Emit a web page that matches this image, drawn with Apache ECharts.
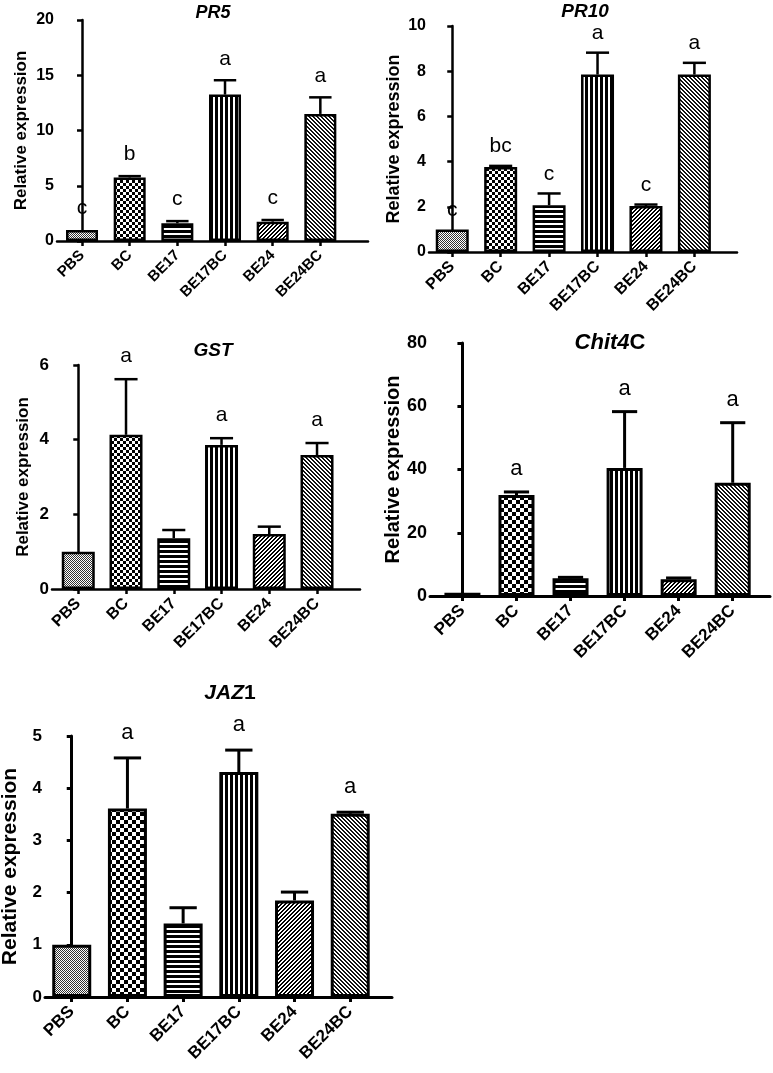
<!DOCTYPE html>
<html><head><meta charset="utf-8">
<script src="https://cdn.jsdelivr.net/npm/echarts@6/dist/echarts.min.js"></script>
<style>html,body{margin:0;padding:0;background:#fff}#c{width:773px;height:1073px}</style>
</head><body><div id="c"></div>
<script>
// ---------- data ----------
const categories = ['PBS', 'BC', 'BE17', 'BE17BC', 'BE24', 'BE24BC'];
const titleItalic = ['PR5', 'PR10', 'GST', 'Chit4', 'JAZ'];
const titleUpright = ['', '', '', 'C', '1'];

const pr5Mean = [1.0, 5.75, 1.6, 13.25, 1.75, 11.5];
const pr5Err = [0, 0.12, 0.2, 1.3, 0.15, 1.5];
const pr5Letters = ['c', 'b', 'c', 'a', 'c', 'a'];

const pr10Mean = [1.0, 3.76, 2.07, 7.85, 2.03, 7.85];
const pr10Err = [0, 0.05, 0.52, 0.97, 0.07, 0.52];
const pr10Letters = ['c', 'bc', 'c', 'a', 'c', 'a'];

const gstMean = [1.0, 4.13, 1.36, 3.86, 1.47, 3.59];
const gstErr = [0, 1.49, 0.22, 0.18, 0.2, 0.32];
const gstLetters = ['', 'a', '', 'a', '', 'a'];

const chitMean = [1.0, 31.9, 5.6, 40.5, 5.3, 35.8];
const chitErr = [0, 1.0, 0.3, 17.8, 0.4, 19.0];
const chitLetters = ['', 'a', '', 'a', '', 'a'];

const jazMean = [1.0, 3.61, 1.41, 4.31, 1.85, 3.51];
const jazErr = [0, 0.97, 0.3, 0.42, 0.16, 0.03];
const jazLetters = ['', 'a', '', 'a', '', 'a'];

const yMax = [20, 10, 6, 80, 5];
const yInterval = [5, 2, 2, 20, 1];

// ---------- layout / style ----------
const FONT = 'Liberation Sans, Arial, sans-serif';
const layout = [
  {grid: {left: 57, top: 20, width: 311, height: 221}, xmin: -0.525, xmax: 6.0, barW: 32, cell: 3,
   tx: 213, ty: 4, tSize: 18, nameGap: 27, nameSize: 17, tickSize: 16, xSize: 15, letSize: 21, lw: 2.5, gap: 11},
  {grid: {left: 429, top: 26, width: 308, height: 226}, xmin: -0.48, xmax: 5.88, barW: 33, cell: 3,
   tx: 585, ty: 2, tSize: 19, nameGap: 26, nameSize: 18, tickSize: 16, xSize: 16, letSize: 21, lw: 2.5, gap: 9},
  {grid: {left: 52, top: 365, width: 308, height: 224}, xmin: -0.55, xmax: 5.9, barW: 33, cell: 3,
   tx: 213, ty: 341, tSize: 19, nameGap: 20, nameSize: 17, tickSize: 17, xSize: 16, letSize: 21, lw: 2.5, gap: 12},
  {grid: {left: 430, top: 343, width: 340, height: 253}, xmin: -0.6, xmax: 5.69, barW: 36, cell: 4,
   tx: 610, ty: 332, tSize: 22, nameGap: 26, nameSize: 20, tickSize: 18, xSize: 17, letSize: 22, lw: 3, gap: 12},
  {grid: {left: 45, top: 736, width: 347, height: 261}, xmin: -0.48, xmax: 5.75, barW: 39, cell: 4,
   tx: 230, ty: 683, tSize: 21, nameGap: 24, nameSize: 21, tickSize: 17, xSize: 17, letSize: 22, lw: 3, gap: 14}
];
const datasets = [
  [pr5Mean, pr5Err, pr5Letters],
  [pr10Mean, pr10Err, pr10Letters],
  [gstMean, gstErr, gstLetters],
  [chitMean, chitErr, chitLetters],
  [jazMean, jazErr, jazLetters]
];

function makeTile(w, h, fn, dark) {
  const c = document.createElement('canvas');
  c.width = w; c.height = h;
  const g = c.getContext('2d');
  g.fillStyle = '#fff'; g.fillRect(0, 0, w, h);
  g.fillStyle = dark;
  for (let y = 0; y < h; y++) for (let x = 0; x < w; x++) if (fn(x, y)) g.fillRect(x, y, 1, 1);
  return {image: c, repeat: 'repeat'};
}
function patternsFor(cell) {
  const p = cell * 2;
  return [
    makeTile(2, 2, (x, y) => (x + y) % 2 === 0, '#333'),
    makeTile(p, p, (x, y) => (Math.floor(x / cell) + Math.floor(y / cell)) % 2 === 0, '#000'),
    makeTile(1, 5, (x, y) => y < 3, '#000'),
    makeTile(5, 1, (x, y) => x < 3, '#000'),
    makeTile(4, 4, (x, y) => (x + y) % 4 < 2, '#000'),
    makeTile(4, 4, (x, y) => (((x - y) % 4) + 4) % 4 < 2, '#111')
  ];
}

const idx = categories.map((_, k) => k);
const grids = [], xAxes = [], yAxes = [], series = [], titles = [];

layout.forEach((L, i) => {
  const [mean, err, letters] = datasets[i];
  const pats = patternsFor(L.cell);
  grids.push(Object.assign({outerBoundsMode: 'none', containLabel: false}, L.grid));
  titles.push({
    text: titleUpright[i] ? '{i|' + titleItalic[i] + '}{n|' + titleUpright[i] + '}' : '{i|' + titleItalic[i] + '}',
    left: L.tx, top: L.ty, textAlign: 'center', padding: 0,
    textStyle: {
      fontFamily: FONT, fontSize: L.tSize, fontWeight: 'bold', fontStyle: 'italic', color: '#000',
      rich: {
        i: {fontFamily: FONT, fontSize: L.tSize, fontWeight: 'bold', fontStyle: 'italic', color: '#000'},
        n: {fontFamily: FONT, fontSize: L.tSize, fontWeight: 'bold', fontStyle: 'normal', color: '#000'}
      }
    }
  });
  xAxes.push({
    gridIndex: i, type: 'value', min: L.xmin, max: L.xmax,
    axisLine: {show: true, onZero: false, lineStyle: {color: '#000', width: L.lw}},
    axisTick: {show: true, customValues: idx, length: 5, lineStyle: {color: '#000', width: L.lw}},
    axisLabel: {
      show: true, customValues: idx, rotate: 45, margin: 12,
      formatter: v => categories[Math.round(v)],
      fontFamily: FONT, fontWeight: 'bold', fontSize: L.xSize, color: '#000'
    },
    splitLine: {show: false}
  });
  yAxes.push({
    gridIndex: i, type: 'value', min: 0, max: yMax[i], interval: yInterval[i],
    name: 'Relative expression', nameLocation: 'middle', nameGap: L.nameGap,
    nameTextStyle: {fontFamily: FONT, fontWeight: 'bold', fontSize: L.nameSize, color: '#000'},
    axisLine: {show: true, lineStyle: {color: '#000', width: L.lw}},
    axisTick: {show: true, length: 5, lineStyle: {color: '#000', width: L.lw}},
    axisLabel: {fontFamily: FONT, fontWeight: 'bold', fontSize: L.tickSize, color: '#000', margin: 3},
    splitLine: {show: false}
  });
  series.push({
    type: 'bar', xAxisIndex: i, yAxisIndex: i, barWidth: L.barW, silent: true,
    itemStyle: {borderColor: '#000', borderWidth: L.lw},
    data: mean.map((v, k) => ({value: [k, v], itemStyle: {color: pats[k]}})),
    z: 2
  });
  series.push({
    type: 'custom', xAxisIndex: i, yAxisIndex: i, silent: true, clip: false, z: 5,
    encode: {x: 0, y: 1},
    data: mean.map((v, k) => [k, v, err[k]]),
    renderItem: (params, api) => {
      const x = api.value(0), m = api.value(1), e = api.value(2);
      const base = api.coord([x, m]);
      const top = api.coord([x, m + e]);
      const half = L.barW * 0.35;
      const children = [];
      if (e > 0) {
        children.push({type: 'line', shape: {x1: base[0], y1: base[1], x2: top[0], y2: top[1]},
          style: {stroke: '#000', lineWidth: L.lw}});
        children.push({type: 'line', shape: {x1: top[0] - half, y1: top[1], x2: top[0] + half, y2: top[1]},
          style: {stroke: '#000', lineWidth: L.lw}});
      }
      const letter = letters[params.dataIndex];
      if (letter) {
        children.push({type: 'text', x: top[0], y: top[1] - L.gap,
          style: {text: letter, fontFamily: FONT, fontSize: L.letSize, fill: '#000',
                  align: 'center', verticalAlign: 'bottom'}});
      }
      return {type: 'group', children};
    }
  });
});

const chart = echarts.init(document.getElementById('c'), null, {renderer: 'canvas'});
chart.setOption({
  backgroundColor: '#fff',
  animation: false,
  title: titles,
  grid: grids,
  xAxis: xAxes,
  yAxis: yAxes,
  series: series
});
</script></body></html>
